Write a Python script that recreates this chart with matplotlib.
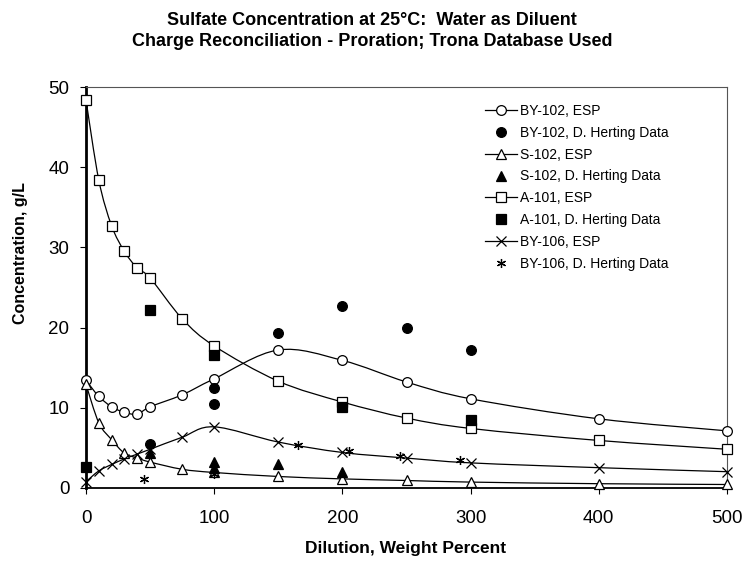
import numpy as np
import matplotlib
matplotlib.use("Agg")
from matplotlib import pyplot as plt
from matplotlib.path import Path
from matplotlib.patches import PathPatch
from matplotlib.lines import Line2D

plt.rcParams['font.family'] = ['Liberation Sans', 'DejaVu Sans']

# ESP model curves (all share the same dilution grid)
esp_x = [0, 10, 20, 30, 40, 50, 75, 100, 150, 200, 250, 300, 400, 500]
by102_esp = [13.4, 11.4, 10.1, 9.4, 9.2, 10.1, 11.6, 13.6, 17.2, 15.9, 13.2, 11.1, 8.6, 7.1]
s102_esp = [12.9, 8.1, 6.0, 4.3, 3.7, 3.2, 2.3, 1.9, 1.4, 1.1, 0.9, 0.7, 0.5, 0.4]
a101_esp = [48.4, 38.4, 32.7, 29.5, 27.4, 26.2, 21.1, 17.7, 13.3, 10.7, 8.7, 7.4, 5.9, 4.8]
by106_esp = [0.75, 2.1, 2.9, 3.6, 4.2, 4.8, 6.3, 7.6, 5.7, 4.4, 3.7, 3.1, 2.5, 2.0]

# D. Herting measured data
by102_dx = [50, 100, 100, 150, 200, 250, 300]
by102_dy = [5.5, 12.5, 10.4, 19.3, 22.7, 19.9, 17.2]
s102_dx = [50, 100, 100, 150, 200]
s102_dy = [4.3, 3.2, 2.4, 3.0, 1.9]
a101_dx = [0, 50, 100, 200, 300]
a101_dy = [2.6, 22.2, 16.6, 10.1, 8.45]
by106_dx = [45, 100, 165, 205, 245, 292]
by106_dy = [1.1, 1.7, 5.3, 4.6, 3.9, 3.4]

title = "Sulfate Concentration at 25\u00b0C:  Water as Diluent\nCharge Reconciliation - Proration; Trona Database Used"


def smooth_path(xs, ys):
    # Excel-style smoothed line: cubic bezier through every point
    pts = np.column_stack([xs, ys]).astype(float)
    n = len(pts)
    verts = [pts[0]]
    codes = [Path.MOVETO]
    for i in range(n - 1):
        p0 = pts[i - 1] if i > 0 else pts[i]
        p1 = pts[i]
        p2 = pts[i + 1]
        p3 = pts[i + 2] if i + 2 < n else pts[i + 1]
        c1 = p1 + (p2 - p0) / 6.0
        c2 = p2 - (p3 - p1) / 6.0
        verts += [c1, c2, p2]
        codes += [Path.CURVE4] * 3
    return Path(verts, codes)


fig = plt.figure(figsize=(7.44, 5.76), dpi=100)
ax = fig.add_axes([86 / 744, 1 - 487.7 / 576, 641 / 744, 400.4 / 576])

line_kw = dict(color="black", lw=0.9)
open_kw = dict(mfc="white", mec="black", mew=0.9, ls="none", zorder=4, clip_on=False)

series = [
    (by102_esp, "o", 7, "BY-102, ESP", by102_dx, by102_dy, "o", 7, "BY-102, D. Herting Data"),
    (s102_esp, "^", 6.5, "S-102, ESP", s102_dx, s102_dy, "^", 6.5, "S-102, D. Herting Data"),
    (a101_esp, "s", 6.5, "A-101, ESP", a101_dx, a101_dy, "s", 6.5, "A-101, D. Herting Data"),
    (by106_esp, "x", 7, "BY-106, ESP", by106_dx, by106_dy, (6, 2, 0), 6.5, "BY-106, D. Herting Data"),
]

handles = []
for ey, em, ems, elab, dx, dy, dm, dms, dlab in series:
    ax.add_patch(PathPatch(smooth_path(esp_x, ey), fill=False, ec="black", lw=0.9, zorder=3))
    ax.plot(esp_x, ey, marker=em, ms=ems, **open_kw)
    filled = dict(mfc="black", mec="black", mew=0.9, ls="none", zorder=5, clip_on=False)
    ax.plot(dx, dy, marker=dm, ms=dms, **filled)
    handles.append(Line2D([], [], marker=em, ms=ems, mfc="white", mec="black", mew=0.9, **line_kw, label=elab))
    handles.append(Line2D([], [], marker=dm, ms=dms, mfc="black", mec="black", mew=0.9, ls="none", label=dlab))

ax.set_xlim(0, 500)
ax.set_ylim(0, 50)
ax.set_xticks(range(0, 501, 100))
ax.set_yticks(range(0, 51, 10))
ax.tick_params(axis="both", direction="out", length=4, width=0.8, labelsize=13.5)
ax.tick_params(axis="x", pad=12)
ax.tick_params(axis="y", pad=8)
ax.spines["left"].set_linewidth(2)
ax.spines["bottom"].set_linewidth(1.3)
for s in ("top", "right"):
    ax.spines[s].set_linewidth(0.8)
    ax.spines[s].set_color("#555555")

ax.legend(handles=handles, loc="upper left", bbox_to_anchor=(0.6225, 0.958), frameon=False,
          fontsize=10, borderpad=0, borderaxespad=0, handlelength=2.3, handletextpad=0.2,
          labelspacing=0.56)

fig.text(0.5, 1 - 31 / 576, title, ha="center", va="center", fontsize=13, fontweight="bold",
         linespacing=1.3)
fig.text(21 / 744, 1 - 253 / 576, "Concentration, g/L", rotation=90, ha="center", va="center",
         fontsize=11.5, fontweight="bold")
fig.text(406 / 744, 1 - 548 / 576, "Dilution, Weight Percent", ha="center", va="center",
         fontsize=12.5, fontweight="bold")

fig.savefig("out.png", dpi=100)
